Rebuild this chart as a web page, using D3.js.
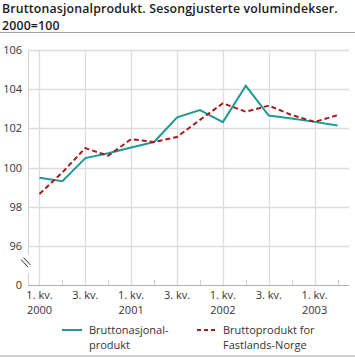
<!DOCTYPE html>
<html><head><meta charset="utf-8">
<script src="https://cdn.jsdelivr.net/npm/d3@7"></script>
<style>
body{margin:0;background:#fff;}
svg{display:block;font-family:"Open Sans",sans-serif;}
</style></head>
<body>
<script>
const quarters = ["1. kv. 2000","2. kv. 2000","3. kv. 2000","4. kv. 2000","1. kv. 2001","2. kv. 2001","3. kv. 2001","4. kv. 2001","1. kv. 2002","2. kv. 2002","3. kv. 2002","4. kv. 2002","1. kv. 2003","2. kv. 2003"];
const bnp = [99.48,99.3,100.48,100.73,101.02,101.3,102.56,102.93,102.32,104.17,102.65,102.5,102.33,102.14];
const fastland = [98.65,99.75,100.99,100.6,101.45,101.3,101.56,102.43,103.28,102.85,103.16,102.68,102.33,102.67];
const yTicks = [96,98,100,102,104,106];
const yBase = 94; // axis break: shown as 0
const seriesNames = ["Bruttonasjonal-\nprodukt","Bruttoprodukt for\nFastlands-Norge"];
const title1 = "Bruttonasjonalprodukt. Sesongjusterte volumindekser.";
const title2 = "2000=100";

const W=355,H=357;
const svg=d3.select("body").append("svg").attr("width",W).attr("height",H);
const x=d3.scalePoint().domain(d3.range(quarters.length)).range([28,349]).padding(0.5);
const y=d3.scaleLinear().domain([yBase,106]).range([285,50]);

svg.append("text").attr("x",2).attr("y",13.3).attr("font-size",12.3).attr("letter-spacing",0.18).attr("font-weight",600).attr("fill","#1a1a1a").text(title1);
svg.append("text").attr("x",2).attr("y",30).attr("font-size",12.3).attr("letter-spacing",0.18).attr("font-weight",600).attr("fill","#1a1a1a").text(title2);
svg.append("line").attr("x1",0).attr("x2",W).attr("y1",32.5).attr("y2",32.5).attr("stroke","#a0a0a0");
svg.append("line").attr("x1",0).attr("x2",W).attr("y1",356).attr("y2",356).attr("stroke","#a0a0a0");

const g=svg.append("g");
// horizontal grid
g.selectAll(".hg").data(yTicks).join("line")
 .attr("x1",28).attr("x2",349).attr("y1",d=>Math.round(y(d))+0.5).attr("y2",d=>Math.round(y(d))+0.5)
 .attr("stroke","#dcdcdc").attr("stroke-width",1.3);
// vertical grid at every second quarter
const idx=d3.range(quarters.length);
g.selectAll(".vg").data(idx.filter(i=>i%2===0)).join("line")
 .attr("x1",i=>Math.round(x(i))+0.5).attr("x2",i=>Math.round(x(i))+0.5).attr("y1",y(106)).attr("y2",y(yBase))
 .attr("stroke","#dcdcdc").attr("stroke-width",1.3);
// minor ticks
g.selectAll(".mt").data(idx.filter(i=>i%2===1)).join("line")
 .attr("x1",i=>Math.round(x(i))+0.5).attr("x2",i=>Math.round(x(i))+0.5).attr("y1",y(yBase)-5).attr("y2",y(yBase))
 .attr("stroke","#cfcfcf");
// left axis with break
g.append("line").attr("x1",28.5).attr("x2",28.5).attr("y1",y(106)).attr("y2",255).attr("stroke","#cfcfcf");
g.append("line").attr("x1",28.5).attr("x2",28.5).attr("y1",273).attr("y2",y(yBase)).attr("stroke","#cfcfcf");
g.append("line").attr("x1",21).attr("x2",28).attr("y1",259.5).attr("y2",267).attr("stroke","#333").attr("stroke-width",1);
g.append("line").attr("x1",23.5).attr("x2",30.5).attr("y1",257.5).attr("y2",265).attr("stroke","#333").attr("stroke-width",1);
// base axis
g.append("line").attr("x1",28).attr("x2",349).attr("y1",Math.round(y(yBase))+0.5).attr("y2",Math.round(y(yBase))+0.5).attr("stroke","#b0b0b0");

// y labels
g.selectAll(".yl").data([yBase].concat(yTicks)).join("text")
 .attr("x",22).attr("y",d=>y(d)+4).attr("text-anchor","end").attr("font-size",11).attr("fill","#333")
 .text(d=>d===yBase?"0":d);
// x labels
const xl=g.selectAll(".xl").data(idx.filter(i=>i%2===0)).join("text")
 .attr("text-anchor","middle").attr("font-size",11).attr("fill","#333");
xl.append("tspan").attr("x",i=>x(i)).attr("y",299).text(i=>quarters[i].split(" ").slice(0,2).join(" "));
xl.filter(i=>quarters[i].startsWith("1.")).append("tspan").attr("x",i=>x(i)).attr("y",314).text(i=>quarters[i].split(" ")[2]);

const line=d3.line().x((d,i)=>x(i)).y(d=>y(d));
g.append("path").datum(bnp).attr("d",line).attr("fill","none").attr("stroke","#1f9a97").attr("stroke-width",2);
g.append("path").datum(fastland).attr("d",line).attr("fill","none").attr("stroke","#a51b1b").attr("stroke-width",2).attr("stroke-dasharray","5,3");

// legend
const lg=svg.append("g");
const lx=[62,197], tx=[89,223], colors=["#1f9a97","#a51b1b"], dashes=[null,"4,3"];
seriesNames.forEach((n,k)=>{
  lg.append("line").attr("x1",lx[k]).attr("x2",lx[k]+20).attr("y1",330).attr("y2",330)
    .attr("stroke",colors[k]).attr("stroke-width",2).attr("stroke-dasharray",dashes[k]);
  const t=lg.append("text").attr("font-size",11).attr("fill","#333");
  n.split("\n").forEach((s,j)=>t.append("tspan").attr("x",tx[k]).attr("y",334+j*15).text(s));
});
</script>
</body></html>
